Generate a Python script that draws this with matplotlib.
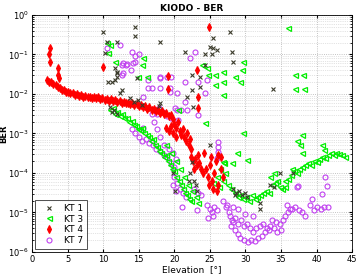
import numpy as np
import matplotlib
matplotlib.use('Agg')
import matplotlib.pyplot as plt
from matplotlib.ticker import LogLocator, NullFormatter

# values: elevation [deg] and log10(BER)
kt1_elev = [10.0, 14.5, 14.5, 10.5, 11.9, 10.3, 11.7, 11.9, 10.7, 11.7, 18.0, 12.4, 14.8, 27.8, 25.5,
            25.0, 25.5, 26.0, 25.3, 24.3, 21.5, 28.1, 28.3, 24.3, 22.5, 23.6, 23.6, 22.5, 21.8, 22.6,
            33.9, 11.9, 12.0, 11.3, 12.6, 11.0, 11.5, 11.9, 11.3, 13.8, 14.3, 14.9, 15.5, 18.0, 17.8,
            25.0, 22.5, 22.0, 19.8, 20.1, 22.2, 22.8, 23.0, 23.2, 28.3, 28.7, 29.1, 29.5, 29.9, 30.2,
            28.5, 32.0, 32.0, 34.0, 34.9, 36.7, 33.5]
kt1_logber = [-0.43, -0.30, -0.53, -0.68, -0.68, -0.97, -1.35, -1.45, -1.70, -1.65, -0.68, -1.98, -1.60, -0.43, -0.58,
              -0.80, -0.85, -0.90, -1.00, -1.00, -0.94, -0.94, -1.19, -1.27, -1.52, -1.57, -1.83, -1.90, -2.08, -2.33,
              -1.88, -1.47, -1.57, -1.70, -1.90, -2.33, -2.40, -2.50, -2.45, -2.10, -2.20, -2.15, -2.28, -2.23, -2.30,
              -3.30, -3.73, -4.20, -4.00, -4.45, -4.00, -4.20, -4.30, -4.45, -4.40, -4.50, -4.45, -4.55, -4.50, -4.60,
              -4.55, -4.77, -4.90, -4.36, -4.00, -4.00, -4.30]

kt3_elev = [10.5, 11.0, 10.7, 11.7, 15.6, 15.5, 14.9, 16.1, 20.5, 36.0, 29.7, 29.5, 28.5, 29.2, 26.9,
            26.9, 25.7, 24.8, 25.7, 26.9, 24.6, 23.9, 37.0, 38.1, 37.0, 38.2, 24.3, 29.7, 38.0, 30.2,
            28.8, 28.1, 26.9,
            11.0, 11.4, 11.6, 12.0, 12.3, 12.7, 13.0, 13.4, 13.7, 14.0, 14.3, 14.6, 14.9, 15.2, 15.5,
            15.8, 16.1, 16.4, 16.7, 17.0, 17.3, 17.6, 17.9, 18.2, 18.5, 18.8, 19.1, 19.4, 19.7, 20.0,
            20.3, 20.6, 20.9, 21.2, 21.5, 21.8, 22.1, 22.4, 20.2, 20.8, 21.4, 21.9, 22.5, 23.0, 23.4,
            19.5, 18.9,
            26.0, 26.4, 26.8, 27.2, 27.6, 28.0, 26.3, 25.5, 27.0,
            28.5, 28.9, 29.3, 29.7, 30.1, 30.5, 30.9, 31.3, 31.7, 32.1, 32.5, 32.9, 33.3, 33.7, 34.1,
            34.5, 34.9, 35.2, 33.5, 34.0,
            35.5, 36.0, 36.4, 36.8, 37.2, 37.6, 38.0, 38.4, 38.8, 39.2, 39.6, 40.0, 40.4, 40.8, 41.2,
            41.6, 42.0, 42.4, 42.8, 43.2, 43.6, 44.0, 37.3, 37.7, 38.0, 40.8, 41.0, 36.5, 35.5]
kt3_logber = [-0.72, -0.75, -0.97, -1.19, -1.10, -1.27, -1.57, -1.57, -2.40, -0.33, -1.19, -1.40, -1.57, -1.70, -1.45,
              -1.70, -1.52, -1.52, -1.78, -2.03, -1.35, -1.27, -1.52, -1.52, -1.88, -1.88, -2.74, -3.00, -3.05, -3.68,
              -3.50, -3.76, -3.73,
              -2.40, -2.35, -2.50, -2.45, -2.55, -2.50, -2.62, -2.60, -2.70, -2.68, -2.78, -2.80, -2.88, -2.92, -2.85,
              -3.00, -3.05, -3.10, -3.20, -3.15, -3.30, -3.35, -3.45, -3.50, -3.60, -3.55, -3.70, -3.80, -3.90, -3.95,
              -4.10, -4.20, -4.30, -4.40, -4.50, -4.55, -4.65, -4.70, -3.70, -3.90, -4.10, -4.30, -4.45, -4.60, -4.75,
              -3.50, -3.30,
              -4.10, -3.90, -4.20, -4.00, -4.30, -4.40, -4.35, -4.25, -3.75,
              -4.50, -4.60, -4.55, -4.65, -4.60, -4.70, -4.55, -4.65, -4.60, -4.55, -4.50, -4.45, -4.50, -4.30, -4.25,
              -4.20, -4.35, -4.40, -4.10, -4.00,
              -4.20, -4.15, -4.05, -3.95, -4.00, -3.90, -3.85, -3.80, -3.75, -3.80, -3.70, -3.72, -3.65, -3.60, -3.62,
              -3.55, -3.50, -3.55, -3.50, -3.52, -3.55, -3.60, -3.20, -3.30, -3.50, -3.30, -3.43, -3.90, -4.35]

# KT 4: outliers, the dense descending band, then the cluster past 20 deg
kt4_elev = [2.5, 2.4, 2.5, 3.7, 3.7, 3.8, 10.0, 24.9, 23.2, 23.3, 23.3, 19.1, 19.1,
            2.1, 2.4, 2.7, 3.0, 3.3, 3.6, 3.9, 4.2, 4.5, 4.8, 5.1, 5.4, 5.7, 6.0, 6.3,
            6.6, 6.9, 7.2, 7.5, 7.8, 8.1, 8.4, 8.7, 9.0, 9.3, 9.6, 9.9, 10.2, 10.5, 10.8,
            11.1, 11.4, 11.7, 12.0, 12.3, 12.6, 12.9, 13.2, 13.5, 13.8, 14.1, 14.4, 14.7, 15.0, 15.3,
            15.6, 15.9, 16.2, 16.5, 16.8, 17.1, 17.4, 17.7, 18.0, 18.3, 18.6, 18.9, 19.2, 19.5, 19.8,
            20.0, 20.3, 20.5, 20.8, 21.0, 21.2, 21.4, 21.6, 21.8, 22.0, 22.2, 22.4, 19.5, 19.8, 20.2,
            18.8, 19.2,
            22.3, 22.6, 22.9, 23.2, 23.5, 23.8, 24.0, 22.8, 23.4,
            24.4, 24.7, 25.0, 25.3, 25.6, 25.9, 26.2, 26.5, 26.8, 26.6, 26.2, 25.5, 24.9, 26.0, 25.2, 24.2]
kt4_logber = [-0.84, -1.00, -1.19, -1.35, -1.52, -1.60, -1.32, -0.30, -1.40, -2.08, -2.36, -1.55, -1.88,
              -1.65, -1.69, -1.71, -1.76, -1.78, -1.83, -1.85, -1.89, -1.90, -1.94, -1.94, -1.98, -1.98, -2.02, -2.01,
              -2.05, -2.03, -2.07, -2.05, -2.09, -2.07, -2.10, -2.08, -2.11, -2.09, -2.13, -2.11, -2.15, -2.12, -2.17,
              -2.14, -2.18, -2.16, -2.20, -2.18, -2.22, -2.20, -2.24, -2.22, -2.26, -2.24, -2.28, -2.26, -2.30, -2.28,
              -2.34, -2.31, -2.37, -2.34, -2.40, -2.37, -2.43, -2.40, -2.47, -2.43, -2.51, -2.48, -2.57, -2.53, -2.64,
              -2.75, -2.85, -2.70, -2.95, -3.05, -2.90, -3.10, -3.20, -3.00, -3.30, -3.15, -3.40, -2.80, -3.00, -3.10,
              -2.85, -2.95,
              -3.60, -3.70, -3.65, -3.80, -3.75, -3.90, -4.00, -3.90, -3.55,
              -3.90, -4.10, -3.80, -4.20, -4.00, -3.70, -4.30, -3.90, -4.10, -3.60, -3.55, -4.40, -4.30, -4.45, -3.60, -3.50]

kt7_elev = [10.5, 12.4, 14.0, 12.8, 13.3, 14.2, 14.5, 12.6, 18.0, 16.9, 18.0, 13.9, 12.8, 12.6, 13.2,
            14.5, 15.0, 16.3, 18.0, 16.3, 15.6, 19.4, 20.4, 22.9, 22.2, 21.5, 23.3, 24.6, 24.3, 21.8,
            23.3, 19.0, 19.6, 19.4, 20.1, 17.6, 15.6, 21.5, 20.4, 21.0, 20.5, 26.2, 26.2, 26.2, 26.0,
            14.0, 14.5, 15.0, 15.5, 16.0, 16.5, 17.0, 17.5, 18.0, 18.5, 19.0, 19.5, 20.0, 16.8, 17.2,
            17.6, 18.0, 17.8, 18.4, 19.0, 19.5, 18.6, 19.2, 19.8, 20.3,
            20.0, 20.4, 20.8, 21.2, 21.6, 19.8, 20.2, 22.8, 23.3, 23.8, 21.1, 23.2,
            24.6, 25.0, 25.3, 25.6, 24.8, 25.5, 26.0, 26.9, 27.3, 27.7, 28.1, 27.4, 28.3, 27.8, 28.2,
            28.6, 29.0, 29.4, 29.8, 30.2, 30.6, 28.0, 28.5, 29.0, 29.3, 29.8, 30.3, 30.8, 31.3, 31.8,
            32.3, 32.8, 33.3, 31.0, 31.5, 32.0, 32.5, 33.0, 33.5, 34.0, 34.5, 35.0, 33.8, 34.3, 34.8,
            35.3, 35.6, 36.0, 36.5, 37.0, 37.5, 38.0, 38.4, 35.8, 36.3, 37.3, 39.1, 39.6, 40.1, 40.6,
            41.1, 41.6, 39.4, 40.8, 41.5, 41.2, 37.4, 29.0, 30.0, 31.0]
kt7_logber = [-0.84, -0.76, -0.94, -1.22, -1.25, -1.22, -1.18, -1.52, -1.57, -1.85, -1.85, -1.40, -1.47, -1.27, -1.27,
              -1.05, -1.00, -1.65, -1.60, -1.85, -2.08, -1.95, -1.98, -0.94, -1.10, -1.70, -1.70, -1.65, -1.98, -2.41,
              -2.54, -1.57, -1.57, -1.85, -2.36, -2.50, -2.87, -2.20, -2.40, -2.40, -2.66, -3.22, -3.35, -3.48, -3.63,
              -2.90, -3.00, -3.10, -3.20, -3.15, -3.25, -3.30, -3.40, -3.45, -3.55, -3.60, -3.75, -3.85, -2.50, -2.70,
              -2.90, -3.10, -2.35, -2.45, -2.55, -2.60, -3.30, -3.40, -3.50, -3.65,
              -4.10, -4.25, -4.40, -4.50, -4.60, -4.30, -4.45, -4.40, -4.50, -4.55, -4.87, -4.95,
              -4.80, -4.90, -5.00, -4.85, -5.13, -5.10, -4.95, -4.70, -4.85, -5.00, -5.20, -4.80, -4.87, -5.10, -5.25,
              -5.15, -5.30, -5.20, -5.35, -5.28, -5.40, -5.35, -5.45, -5.55, -5.65, -5.70, -5.75, -5.70, -5.72, -5.65,
              -5.60, -5.50, -5.45, -5.50, -5.40, -5.35, -5.30, -5.40, -5.35, -5.40, -5.50, -5.45, -5.20, -5.25, -5.30,
              -5.20, -5.10, -5.00, -4.90, -4.85, -4.95, -5.00, -5.10, -4.80, -4.90, -4.36, -4.80, -4.95, -4.85, -4.90,
              -4.85, -4.85, -4.67, -4.54, -4.33, -4.11, -4.33, -4.90, -5.05, -5.10]

fig = plt.figure(figsize=(3.6, 2.76), dpi=100)
ax = fig.add_axes([0.089, 0.087, 0.889, 0.859])

ax.plot(kt1_elev, np.power(10.0, kt1_logber), 'x', color='#3a3a2a', ms=3.2, mew=0.8, label='KT 1', zorder=5)
ax.plot(kt3_elev, np.power(10.0, kt3_logber), '<', color='#00ee00', mfc='none', ms=3.6, mew=0.9, label='KT 3', zorder=3)
ax.plot(kt4_elev, np.power(10.0, kt4_logber), 'd', color='#ff0000', ms=4.0, mew=0.8, label='KT 4', zorder=4)
ax.plot(kt7_elev, np.power(10.0, kt7_logber), 'o', color='#c040f0', mfc='none', ms=3.6, mew=0.8, label='KT 7', zorder=2)

ax.set_yscale('log')
ax.set_xlim(0, 45)
ax.set_ylim(1e-6, 1)
ax.set_xticks(range(0, 46, 5))
ax.yaxis.set_major_locator(LogLocator(base=10, numticks=10))
ax.yaxis.set_minor_locator(LogLocator(base=10, subs=np.arange(2, 10), numticks=10))
ax.yaxis.set_minor_formatter(NullFormatter())

ax.grid(True, which='major', color='#b0b0b0', linestyle=':', linewidth=0.6)
ax.grid(True, which='minor', axis='y', color='#c8c8c8', linestyle=':', linewidth=0.5)
ax.set_axisbelow(True)

ax.tick_params(which='both', direction='in', labelsize=6, top=True, right=True, pad=2)
ax.tick_params(which='major', length=2.5)
ax.tick_params(which='minor', length=1.5)
for s in ax.spines.values():
    s.set_linewidth(0.6)

ax.set_title('KIODO - BER', fontsize=6.5, fontweight='bold', pad=3)
ax.set_xlabel('Elevation  [°]', fontsize=6.5, labelpad=1)
ax.set_ylabel('BER', fontsize=6, fontweight='bold')
ax.yaxis.set_label_coords(-0.075, 0.5)

leg = ax.legend(loc='lower left', fontsize=6.5, frameon=True, fancybox=False,
                edgecolor='black', borderpad=0.45, labelspacing=0.2, handletextpad=0.5,
                handlelength=2.3, borderaxespad=0.3)
leg.get_frame().set_linewidth(0.6)

fig.savefig('out.png', dpi=100)
